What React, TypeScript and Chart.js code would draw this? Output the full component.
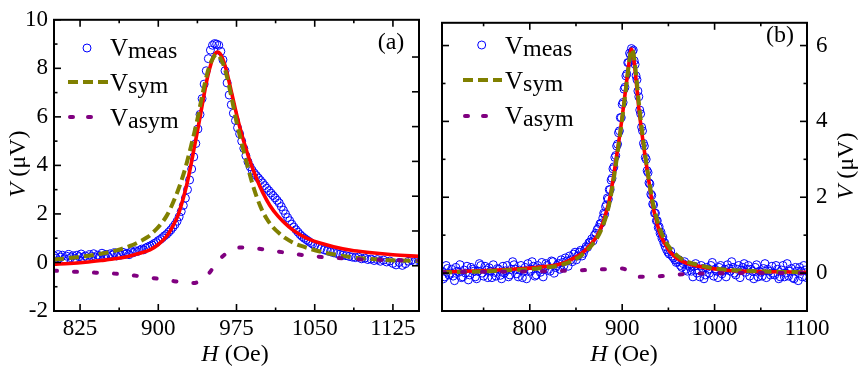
import React, { useEffect, useRef } from 'react';
import { Chart, registerables } from 'chart.js';
Chart.register(...registerables);

const FONT = '"Liberation Serif", "Times New Roman", Times, serif';

// ---------- Panel (a) ----------
const xTicksA = [825, 900, 975, 1050, 1125];
const xMinorA = [862.5, 937.5, 1012.5, 1087.5];
const yTicksA = [-2, 0, 2, 4, 6, 8, 10];
const yMinorA = [-1, 1, 3, 5, 7, 9];
const yRightTicksA = [0, 1, 2, 3, 4, 5, 6];

const measA: [number, number][] = [
  [800, 0.28], [802, 0.18], [804, 0.32], [806, 0.22], [808, 0.3], [810, 0.15], [812, 0.26], [814, 0.33],
  [816, 0.2], [818, 0.28], [820, 0.16], [822, 0.3], [824, 0.24], [826, 0.35], [828, 0.2], [830, 0.27],
  [832, 0.18], [834, 0.32], [836, 0.25], [838, 0.36], [840, 0.22], [842, 0.3], [844, 0.26], [846, 0.38],
  [848, 0.28], [850, 0.33], [852, 0.24], [854, 0.36], [856, 0.3], [858, 0.4], [860, 0.27], [862, 0.35],
  [864, 0.3], [866, 0.42], [868, 0.33], [870, 0.38], [872, 0.32], [874, 0.44], [876, 0.4], [878, 0.48],
  [880, 0.45], [882, 0.5], [884, 0.55], [886, 0.52], [888, 0.6], [890, 0.64], [892, 0.68], [894, 0.72],
  [896, 0.78], [898, 0.82], [900, 0.9], [902, 0.95], [904, 1.02], [906, 1.1], [908, 1.16], [910, 1.25],
  [912, 1.34], [914, 1.45], [916, 1.56], [918, 1.7], [920, 1.88], [922, 2.1], [924, 2.35], [926, 2.65],
  [928, 3.0], [930, 3.4], [932, 3.85], [934, 4.35], [936, 4.9], [938, 5.5], [940, 6.1], [942, 6.75],
  [944, 7.35], [946, 7.9], [948, 8.4], [950, 8.75], [952, 8.95], [954, 9.02], [956, 9.0], [958, 8.95],
  [960, 8.7], [962, 8.35], [964, 7.9], [966, 7.4], [968, 6.9], [970, 6.5], [972, 6.15], [974, 5.85],
  [976, 5.55], [978, 5.3], [980, 5.0], [982, 4.7], [984, 4.4], [986, 4.15], [988, 3.95], [990, 3.8],
  [992, 3.68], [994, 3.58], [996, 3.48], [998, 3.38], [1000, 3.28], [1002, 3.17], [1004, 3.06], [1006, 2.96],
  [1008, 2.86], [1010, 2.76], [1012, 2.66], [1014, 2.56], [1016, 2.45], [1018, 2.3], [1020, 2.15], [1022, 2.0],
  [1024, 1.85], [1026, 1.72], [1028, 1.58], [1030, 1.46], [1032, 1.35], [1034, 1.25], [1036, 1.15], [1038, 1.07],
  [1040, 1.0], [1042, 0.94], [1044, 0.88], [1046, 0.82], [1048, 0.76], [1050, 0.7], [1053, 0.64], [1056, 0.57],
  [1059, 0.52], [1062, 0.48], [1065, 0.44], [1068, 0.4], [1071, 0.37], [1074, 0.33], [1077, 0.3], [1080, 0.28],
  [1083, 0.25], [1086, 0.22], [1089, 0.2], [1092, 0.22], [1095, 0.15], [1098, 0.18], [1101, 0.12], [1104, 0.14],
  [1107, 0.08], [1110, 0.12], [1113, 0.05], [1116, 0.1], [1119, 0.02], [1122, 0.06], [1125, -0.04], [1128, -0.1],
  [1131, 0.0], [1134, -0.12], [1137, -0.05], [1140, 0.05], [1143, 0.1], [1146, 0.04], [1149, 0.12],
];

const symA: [number, number][] = [
  [800, 0.12], [815, 0.18], [830, 0.26], [845, 0.36], [860, 0.5], [873, 0.68], [882, 0.86], [890, 1.05],
  [896, 1.28], [902, 1.56], [908, 1.92], [914, 2.45], [920, 3.1], [926, 3.9], [932, 4.9], [937, 5.8],
  [942, 6.85], [947, 7.8], [951, 8.3], [954, 8.52], [956, 8.58], [958, 8.52], [961, 8.3], [965, 7.8],
  [970, 6.85], [975, 5.8], [980, 4.9], [986, 3.9], [992, 3.0], [998, 2.3], [1004, 1.8], [1010, 1.45],
  [1016, 1.2], [1022, 1.0], [1030, 0.8], [1040, 0.64], [1055, 0.45], [1070, 0.32], [1085, 0.22], [1105, 0.14],
  [1130, 0.08], [1150, 0.06],
];

const asymA: [number, number][] = [
  [800, -0.34], [820, -0.38], [840, -0.42], [858, -0.46], [877, -0.54], [896, -0.65], [915, -0.77], [926, -0.83],
  [934, -0.85], [940, -0.76], [945, -0.6], [948, -0.48], [952, -0.25], [956, 0.0], [959, 0.14], [963, 0.3],
  [968, 0.47], [976, 0.61], [985, 0.62], [996, 0.57], [1015, 0.45], [1034, 0.33], [1053, 0.24], [1073, 0.18],
  [1092, 0.13], [1120, 0.1], [1150, 0.08],
];

const fitA: [number, number][] = [
  [800, -0.07], [815, -0.04], [830, 0.01], [845, 0.08], [860, 0.16], [872, 0.26], [882, 0.38], [892, 0.52],
  [900, 0.74], [908, 1.08], [914, 1.5], [919, 1.95], [923, 2.5], [927, 3.15], [931, 3.95], [935, 4.85],
  [939, 5.75], [943, 6.7], [947, 7.6], [951, 8.25], [954, 8.57], [957, 8.67], [960, 8.55], [963, 8.25],
  [966, 7.8], [970, 7.05], [974, 6.3], [978, 5.6], [982, 4.98], [986, 4.42], [990, 3.93], [995, 3.38],
  [1000, 2.9], [1007, 2.35], [1015, 1.9], [1025, 1.48], [1036, 1.14], [1045, 0.95], [1055, 0.8], [1068, 0.65],
  [1085, 0.5], [1100, 0.42], [1125, 0.32], [1150, 0.25],
];

// ---------- Panel (b) ----------
const xTicksB = [800, 900, 1000, 1100];
const xMinorB = [750, 850, 950, 1050];
const yTicksB = [0, 2, 4, 6];
const yMinorB = [1, 3, 5];

const measBTails: [number, number][] = [
  [705, 0.05], [708, -0.1], [711, 0.12], [714, 0.0], [717, -0.08], [720, 0.15], [723, 0.02], [726, -0.12],
  [729, 0.08], [732, 0.18], [735, -0.05], [738, 0.1], [741, -0.1], [744, 0.05], [747, 0.2], [750, -0.08],
  [753, 0.08], [756, 0.14], [759, -0.12], [762, 0.02], [765, 0.12], [768, -0.06], [771, 0.18], [774, 0.06],
  [777, -0.1], [780, 0.1], [783, 0.22], [786, -0.02], [789, 0.08], [792, -0.12], [795, 0.15], [798, 0.25],
  [801, 0.05], [804, 0.18], [807, -0.05], [810, 0.12], [813, 0.28], [816, 0.1], [819, 0.2], [822, 0.05],
  [825, 0.3], [828, 0.15], [831, 0.25], [834, 0.35], [837, 0.2], [840, 0.32], [843, 0.45], [846, 0.3],
  [849, 0.55], [852, 0.45], [855, 0.6], [858, 0.52], [861, 0.7], [864, 0.8], [867, 0.9], [870, 1.0],
  [873, 1.15], [876, 1.3],
  [706.5, -0.15], [709.5, 0.2], [712.5, -0.05], [715.5, 0.1], [718.5, -0.2], [721.5, 0.05], [724.5, 0.22], [727.5, -0.1],
  [730.5, 0.0], [733.5, -0.18], [736.5, 0.15], [739.5, 0.05], [742.5, -0.15], [745.5, 0.25], [748.5, 0.0], [751.5, 0.18],
  [754.5, -0.12], [757.5, 0.05], [760.5, 0.22], [763.5, -0.08], [766.5, 0.1], [769.5, -0.15], [772.5, 0.0], [775.5, 0.2],
  [778.5, -0.05], [781.5, 0.3], [784.5, 0.1], [787.5, -0.1], [790.5, 0.2], [793.5, 0.05], [796.5, -0.15], [799.5, 0.1],
  [802.5, 0.3], [805.5, -0.08], [808.5, 0.2], [811.5, 0.02], [814.5, -0.1], [817.5, 0.25], [820.5, 0.1], [823.5, 0.32],
  [826.5, 0.0], [829.5, 0.2], [832.5, 0.1], [835.5, 0.28], [838.5, 0.4], [841.5, 0.18], [844.5, 0.35], [847.5, 0.5],
  [850.5, 0.35], [853.5, 0.55], [856.5, 0.45], [859.5, 0.62], [862.5, 0.68], [865.5, 0.82], [868.5, 0.85], [871.5, 1.05],
  [874.5, 1.2], [877.5, 1.32],
  [946, 0.8], [948, 0.62], [951, 0.5], [954, 0.45], [957, 0.35], [960, 0.3], [963, 0.2], [966, 0.25],
  [969, 0.1], [972, 0.2], [975, 0.05], [978, 0.18], [981, 0.0], [984, -0.1], [987, 0.12], [990, -0.05],
  [993, 0.1], [996, 0.2], [999, -0.08], [1002, 0.05], [1005, 0.15], [1008, -0.02], [1011, 0.1], [1014, 0.22],
  [1017, 0.05], [1020, 0.15], [1023, -0.05], [1026, 0.2], [1029, 0.08], [1032, 0.25], [1035, 0.1], [1038, -0.08],
  [1041, 0.05], [1044, 0.15], [1047, -0.1], [1050, 0.02], [1053, 0.12], [1056, -0.12], [1059, 0.05], [1062, 0.18],
  [1065, -0.05], [1068, 0.1], [1071, -0.1], [1074, 0.2], [1077, 0.0], [1080, -0.08], [1083, 0.12], [1086, -0.15],
  [1089, 0.05], [1092, 0.15], [1095, -0.1], [1098, 0.08],
  [946.5, 0.7], [949.5, 0.55], [952.5, 0.58], [955.5, 0.4], [958.5, 0.28], [961.5, 0.35], [964.5, 0.15], [967.5, 0.3],
  [970.5, 0.05], [973.5, 0.15], [976.5, -0.1], [979.5, 0.25], [982.5, 0.08], [985.5, 0.2], [988.5, -0.15], [991.5, 0.15],
  [994.5, 0.0], [997.5, 0.28], [1000.5, 0.1], [1003.5, -0.12], [1006.5, 0.2], [1009.5, 0.05], [1012.5, -0.1], [1015.5, 0.12],
  [1018.5, 0.3], [1021.5, 0.0], [1024.5, 0.1], [1027.5, -0.12], [1030.5, 0.15], [1033.5, 0.02], [1036.5, 0.2], [1039.5, 0.1],
  [1042.5, -0.15], [1045.5, 0.22], [1048.5, 0.05], [1051.5, -0.08], [1054.5, 0.25], [1057.5, 0.1], [1060.5, -0.05], [1063.5, 0.0],
  [1066.5, 0.2], [1069.5, -0.15], [1072.5, 0.08], [1075.5, -0.1], [1078.5, 0.25], [1081.5, 0.05], [1084.5, -0.12], [1087.5, 0.15],
  [1090.5, -0.2], [1093.5, 0.05], [1096.5, 0.2], [1099.5, -0.12],
];

const measBPeak: [number, number][] = [
  [879, 1.45], [880, 1.58], [881, 1.55], [882, 1.75], [883, 1.8], [884, 1.98], [885, 1.95], [886, 2.2],
  [887, 2.2], [888, 2.45], [889, 2.5], [890, 2.75], [891, 2.8], [892, 3.05], [893, 3.1], [894, 3.35],
  [895, 3.4], [896, 3.7], [897, 3.75], [898, 4.1], [899, 4.1], [900, 4.45], [901, 4.5], [902, 4.85],
  [903, 4.9], [904, 5.2], [905, 5.25], [906, 5.55], [907, 5.55], [908, 5.8], [909, 5.75], [910, 5.92],
  [911, 5.85], [912, 5.88], [913, 5.6], [914, 5.5], [915, 5.2], [916, 5.1], [917, 4.8], [918, 4.65],
  [919, 4.3], [920, 4.2], [921, 3.85], [922, 3.75], [923, 3.42], [924, 3.35], [925, 3.05], [926, 3.0],
  [927, 2.7], [928, 2.65], [929, 2.38], [930, 2.35], [931, 2.08], [932, 2.05], [933, 1.82], [934, 1.8],
  [935, 1.58], [936, 1.58], [937, 1.38], [938, 1.38], [939, 1.2], [940, 1.22], [941, 1.05], [942, 1.08],
  [943, 0.92], [944, 0.95], [945, 0.8],
];

const symB: [number, number][] = [
  [705, 0.02], [730, 0.03], [755, 0.05], [780, 0.08], [800, 0.1], [815, 0.14], [830, 0.19], [840, 0.26],
  [848, 0.35], [855, 0.45], [862, 0.6], [868, 0.76], [873, 0.93], [878, 1.18], [882, 1.45], [886, 1.82],
  [890, 2.35], [894, 3.0], [898, 3.7], [902, 4.45], [905, 5.05], [908, 5.65], [910, 5.9], [912, 5.82],
  [915, 5.25], [918, 4.5], [921, 3.85], [925, 3.1], [929, 2.45], [933, 1.88], [937, 1.48], [941, 1.15],
  [946, 0.88], [952, 0.65], [960, 0.45], [970, 0.3], [985, 0.2], [1000, 0.12], [1025, 0.07], [1050, 0.05],
  [1075, 0.03], [1100, 0.02],
];

const asymB: [number, number][] = [
  [705, 0.02], [740, 0.03], [780, 0.04], [820, 0.05], [850, 0.07], [880, 0.1], [900, 0.12], [905, 0.08],
  [910, 0.0], [915, -0.08], [921, -0.1], [943, -0.08], [965, -0.03], [990, -0.01], [1020, 0.0], [1100, 0.0],
];

const fitB: [number, number][] = [
  [705, 0.03], [730, 0.05], [755, 0.07], [780, 0.1], [800, 0.13], [815, 0.17], [830, 0.22], [840, 0.3],
  [848, 0.4], [855, 0.5], [862, 0.65], [868, 0.82], [873, 0.99], [878, 1.25], [882, 1.55], [886, 1.92],
  [890, 2.45], [894, 3.1], [898, 3.75], [902, 4.5], [905, 5.1], [908, 5.65], [910, 5.91], [912, 5.75],
  [915, 5.1], [918, 4.35], [921, 3.75], [925, 3.05], [929, 2.4], [933, 1.8], [937, 1.38], [941, 1.04],
  [946, 0.78], [952, 0.55], [960, 0.38], [970, 0.26], [985, 0.17], [1000, 0.11], [1015, 0.07], [1050, 0.04],
  [1085, 0.03], [1100, 0.02],
];

const BLUE = '#0000FF';
const RED = '#FF0000';
const OLIVE = '#808000';
const PURPLE = '#800080';

const pts = (a: [number, number][]) => a.map(([x, y]) => ({ x, y }));

function setFont(ctx: CanvasRenderingContext2D, size: number, italic = false) {
  ctx.font = `${italic ? 'italic ' : ''}${size}px ${FONT}`;
}

type Part = { t: string; size: number; italic?: boolean; dy?: number };
function drawParts(ctx: CanvasRenderingContext2D, parts: Part[], x: number, y: number, align: 'left' | 'center') {
  let total = 0;
  for (const p of parts) { setFont(ctx, p.size, p.italic); total += ctx.measureText(p.t).width; }
  let cx = align === 'center' ? x - total / 2 : x;
  ctx.textAlign = 'left';
  ctx.textBaseline = 'alphabetic';
  for (const p of parts) {
    setFont(ctx, p.size, p.italic);
    ctx.fillText(p.t, cx, y + (p.dy || 0));
    cx += ctx.measureText(p.t).width;
  }
}

const framePlugin = {
  id: 'frame',
  afterDatasetsDraw(chart: any, _args: any, o: any) {
    const { ctx, chartArea: a, scales } = chart;
    const x = scales.x, y = scales.y, yr = scales[o.rightScale];
    ctx.save();
    ctx.strokeStyle = '#000';
    ctx.setLineDash([]);
    ctx.lineWidth = 2;
    ctx.strokeRect(a.left, a.top, a.right - a.left, a.bottom - a.top);
    const line = (x1: number, y1: number, x2: number, y2: number) => {
      ctx.beginPath(); ctx.moveTo(x1, y1); ctx.lineTo(x2, y2); ctx.stroke();
    };
    const M = 7, m = 3.5;
    ctx.lineWidth = 1.6;
    (o.xMajor as number[]).forEach((v) => { const p = x.getPixelForValue(v); line(p, a.bottom, p, a.bottom - M); line(p, a.top, p, a.top + M); });
    (o.xMinor as number[]).forEach((v) => { const p = x.getPixelForValue(v); line(p, a.bottom, p, a.bottom - m); line(p, a.top, p, a.top + m); });
    (o.yMajor as number[]).forEach((v) => { const p = y.getPixelForValue(v); line(a.left, p, a.left + M, p); });
    (o.yMinor as number[]).forEach((v) => { const p = y.getPixelForValue(v); line(a.left, p, a.left + m, p); });
    (o.rMajor as number[]).forEach((v) => { const p = yr.getPixelForValue(v); line(a.right, p, a.right - M, p); });
    (o.rMinor as number[]).forEach((v) => { const p = yr.getPixelForValue(v); line(a.right, p, a.right - m, p); });
    ctx.restore();
  },
  afterDraw(chart: any, _args: any, o: any) {
    const { ctx } = chart;
    ctx.save();
    ctx.fillStyle = '#000';
    drawParts(ctx, [{ t: 'H', size: 24, italic: true }, { t: ' (Oe)', size: 24 }], o.xTitleX, o.xTitleY, 'center');
    ctx.save();
    ctx.translate(o.yTitleX, o.yTitleY);
    ctx.rotate(-Math.PI / 2);
    drawParts(ctx, [{ t: 'V', size: 24, italic: true }, { t: ' (\u03bcV)', size: 24 }], 0, 0, 'center');
    ctx.restore();
    setFont(ctx, 24);
    ctx.textAlign = 'center';
    ctx.textBaseline = 'middle';
    ctx.fillText(o.tag, o.tagX, o.tagY);
    const L = o.legend;
    ctx.beginPath();
    ctx.strokeStyle = BLUE; ctx.lineWidth = 1;
    ctx.arc(L.circleX, L.rowY[0], 4, 0, Math.PI * 2);
    ctx.stroke();
    ctx.strokeStyle = OLIVE; ctx.lineWidth = 4; ctx.setLineDash([10, 5]); ctx.lineCap = 'butt';
    ctx.beginPath(); ctx.moveTo(L.symX0, L.rowY[1]); ctx.lineTo(L.symX1, L.rowY[1]); ctx.stroke();
    ctx.strokeStyle = PURPLE; ctx.setLineDash([3, 15]); ctx.lineCap = 'round';
    ctx.beginPath(); ctx.moveTo(L.asymX0, L.rowY[2]); ctx.lineTo(L.asymX1, L.rowY[2]); ctx.stroke();
    ctx.setLineDash([]);
    ctx.fillStyle = '#000';
    const names = ['meas', 'sym', 'asym'];
    names.forEach((n, i) => {
      drawParts(ctx, [{ t: 'V', size: 25 }, { t: n, size: 24, dy: 2 }], L.textX, L.base[i], 'left');
    });
    ctx.restore();
  },
};

function baseDatasets(meas: any, fit: any, sym: any, asym: any) {
  return [
    { label: 'Vasym', data: pts(asym), borderColor: PURPLE, borderWidth: 4, borderDash: [3, 17], borderCapStyle: 'round', pointRadius: 0, cubicInterpolationMode: 'monotone', fill: false, order: 0 },
    { label: 'Vsym', data: pts(sym), borderColor: OLIVE, borderWidth: 4, borderDash: [10, 5], pointRadius: 0, cubicInterpolationMode: 'monotone', fill: false, order: 1 },
    { label: 'fit', data: pts(fit), borderColor: RED, borderWidth: 3.6, pointRadius: 0, cubicInterpolationMode: 'monotone', fill: false, order: 2 },
    { label: 'Vmeas', data: pts(meas), showLine: false, borderColor: BLUE, backgroundColor: 'rgba(0,0,0,0)', pointRadius: 4, pointBorderWidth: 1, pointStyle: 'circle', order: 3 },
  ];
}

const tickFont = { family: FONT, size: 23 };
const plain = (v: any) => String(v);

function makeConfigA(): any {
  return {
    type: 'line',
    data: { datasets: baseDatasets(measA, fitA, symA, asymA) },
    plugins: [framePlugin],
    options: {
      animation: false, responsive: false, devicePixelRatio: 1,
      layout: { padding: { left: 0, right: 11, top: 15, bottom: 0 } },
      scales: {
        x: {
          type: 'linear', min: 800, max: 1150, position: 'bottom',
          grid: { display: false, drawTicks: false }, border: { display: false },
          afterBuildTicks: (ax: any) => { ax.ticks = xTicksA.map((v) => ({ value: v })); },
          afterFit: (ax: any) => { ax.height = 59; },
          ticks: { font: tickFont, color: '#000', padding: 4, maxRotation: 0, autoSkip: false, callback: plain },
        },
        y: {
          type: 'linear', min: -2, max: 10, position: 'left',
          grid: { display: false, drawTicks: false }, border: { display: false },
          afterBuildTicks: (ax: any) => { ax.ticks = yTicksA.map((v) => ({ value: v })); },
          afterFit: (ax: any) => { ax.width = 54; },
          ticks: { font: tickFont, color: '#000', padding: 6, autoSkip: false, callback: plain },
        },
        y2: { type: 'linear', min: -1.3, max: 7.07, position: 'right', display: false },
      },
      plugins: {
        legend: { display: false }, tooltip: { enabled: false },
        frame: {
          xMajor: xTicksA, xMinor: xMinorA, yMajor: yTicksA, yMinor: yMinorA,
          rightScale: 'y2', rMajor: yRightTicksA, rMinor: [],
          xTitleX: 235, xTitleY: 361, yTitleX: 25, yTitleY: 164,
          tag: '(a)', tagX: 391, tagY: 43,
          legend: { circleX: 87, rowY: [48, 82, 117], symX0: 68, symX1: 108, asymX0: 70, asymX1: 93, textX: 110, base: [56, 90.5, 126] },
        },
      },
    },
  };
}

function makeConfigB(): any {
  return {
    type: 'line',
    data: { datasets: baseDatasets([...measBTails, ...measBPeak], fitB, symB, asymB) },
    plugins: [framePlugin],
    options: {
      animation: false, responsive: false, devicePixelRatio: 1,
      layout: { padding: { left: 12, right: 0, top: 15, bottom: 0 } },
      scales: {
        x: {
          type: 'linear', min: 705, max: 1100, position: 'bottom',
          grid: { display: false, drawTicks: false }, border: { display: false },
          afterBuildTicks: (ax: any) => { ax.ticks = xTicksB.map((v) => ({ value: v })); },
          afterFit: (ax: any) => { ax.height = 59; },
          ticks: { font: tickFont, color: '#000', padding: 4, maxRotation: 0, autoSkip: false, callback: plain },
        },
        y: {
          type: 'linear', min: -1, max: 6.6, position: 'right',
          grid: { display: false, drawTicks: false }, border: { display: false },
          afterBuildTicks: (ax: any) => { ax.ticks = yTicksB.map((v) => ({ value: v })); },
          afterFit: (ax: any) => { ax.width = 57; },
          ticks: { font: tickFont, color: '#000', padding: 9, autoSkip: false, callback: plain },
        },
      },
      plugins: {
        legend: { display: false }, tooltip: { enabled: false },
        frame: {
          xMajor: xTicksB, xMinor: xMinorB, yMajor: yTicksB, yMinor: yMinorB,
          rightScale: 'y', rMajor: yTicksB, rMinor: yMinorB,
          xTitleX: 194, xTitleY: 361, yTitleX: 423, yTitleY: 166,
          tag: '(b)', tagX: 350, tagY: 36,
          legend: { circleX: 51.7, rowY: [45, 80, 116], symX0: 33, symX1: 72, asymX0: 35, asymX1: 58, textX: 75, base: [53.5, 88.5, 124] },
        },
      },
    },
  };
}

function Panel({ left, width, make }: { left: number; width: number; make: () => any }) {
  const ref = useRef<HTMLCanvasElement | null>(null);
  useEffect(() => {
    if (!ref.current) return;
    const chart = new Chart(ref.current, make());
    return () => { chart.destroy(); };
  }, []);
  return (
    <canvas ref={ref} width={width} height={370}
      style={{ position: 'absolute', left, top: 0, width, height: 370 }} />
  );
}

export default function App() {
  return (
    <div style={{ position: 'absolute', left: 0, top: 0, width: 864, height: 370, background: '#fff', overflow: 'hidden' }}>
      <Panel left={0} width={430} make={makeConfigA} />
      <Panel left={430} width={434} make={makeConfigB} />
    </div>
  );
}
